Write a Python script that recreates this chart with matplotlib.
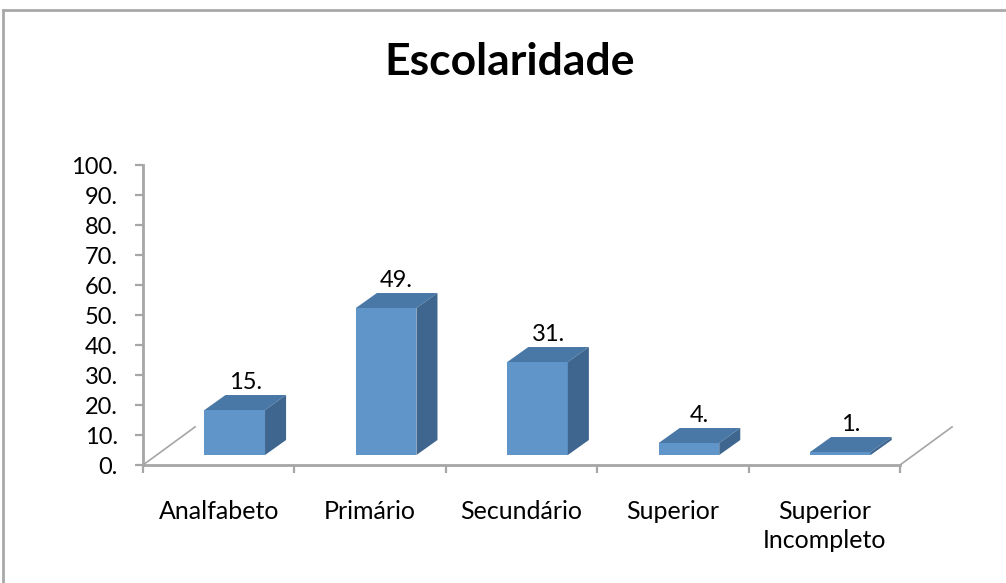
import matplotlib
matplotlib.use('Agg')
from matplotlib import pyplot as plt
from matplotlib.patches import Polygon
from matplotlib.lines import Line2D

# data
categorias = ['Analfabeto', 'Primário', 'Secundário', 'Superior', 'Superior\nIncompleto']
valores = [15, 49, 31, 4, 1]
rotulos = ['15.', '49.', '31.', '4.', '1.']
yticks = [0, 10, 20, 30, 40, 50, 60, 70, 80, 90, 100]

plt.rcParams['font.family'] = ['Lato', 'DejaVu Sans']

frente = '#5f95c9'
topo = '#4a78a6'
lado = '#3f668f'
cinza = '#a6a6a6'

fig = plt.figure(figsize=(10.06, 5.83), dpi=100)
ax = fig.add_axes([143/1006, 118/583, 757/1006, 300/583])

n = len(valores)
w = 0.40        # front face width (category units)
fdx, fdy = 0.106, 3.33   # front face offset into the floor
dx, dy = 0.139, 5.0      # bar depth
fl_dx, fl_dy = 0.344, 12.7  # floor depth

xs = [i + 0.5 + fdx for i in range(n)]
ax.bar(xs, valores, width=w, bottom=fdy, color=frente, zorder=3)
for x, v, r in zip(xs, valores, rotulos):
    xl, xr = x - w/2, x + w/2
    y1 = fdy + v
    ax.add_patch(Polygon([(xl, y1), (xl+dx, y1+dy), (xr+dx, y1+dy), (xr, y1)],
                         closed=True, color=topo, zorder=3, lw=0))
    ax.add_patch(Polygon([(xr, fdy), (xr+dx, fdy+dy), (xr+dx, y1+dy), (xr, y1)],
                         closed=True, color=lado, zorder=3, lw=0))
    ax.text(x + dx/2, y1 + dy + 0.8, r, ha='center', va='bottom', fontsize=17, zorder=4)

# floor diagonals
for x0 in (0, n):
    ax.add_line(Line2D([x0, x0+fl_dx], [0, fl_dy], color=cinza, lw=1.2, clip_on=False))

ax.set_xlim(0, n)
ax.set_ylim(0, 100)
ax.set_yticks(yticks)
ax.set_yticklabels([f'{t}.' for t in yticks], fontsize=17)
ax.set_xticks(range(n + 1))
ax.set_xticklabels([])
ax.set_xticks([i + 0.5 for i in range(n)], minor=True)
ax.set_xticklabels(categorias, minor=True, fontsize=18, linespacing=1.35)
ax.tick_params(axis='x', which='minor', length=0, pad=25)
ax.tick_params(axis='both', which='major', color=cinza, width=1.6, length=6)
ax.tick_params(axis='y', pad=12)

for s in ('top', 'right'):
    ax.spines[s].set_visible(False)
for s in ('left', 'bottom'):
    ax.spines[s].set_color(cinza)
    ax.spines[s].set_linewidth(2)
ax.patch.set_visible(False)

fig.text(510/1006, 1 - 62/583, 'Escolaridade', ha='center', va='center',
         fontsize=32, fontweight='bold')

# chart frame (top and left edges)
fig.add_artist(Line2D([3/1006, 1], [1 - 10/583, 1 - 10/583], color='#a9a9a9', lw=2,
                      transform=fig.transFigure))
fig.add_artist(Line2D([3/1006, 3/1006], [0, 1 - 10/583], color='#a9a9a9', lw=2,
                      transform=fig.transFigure))

fig.savefig('out.png', dpi=100)
